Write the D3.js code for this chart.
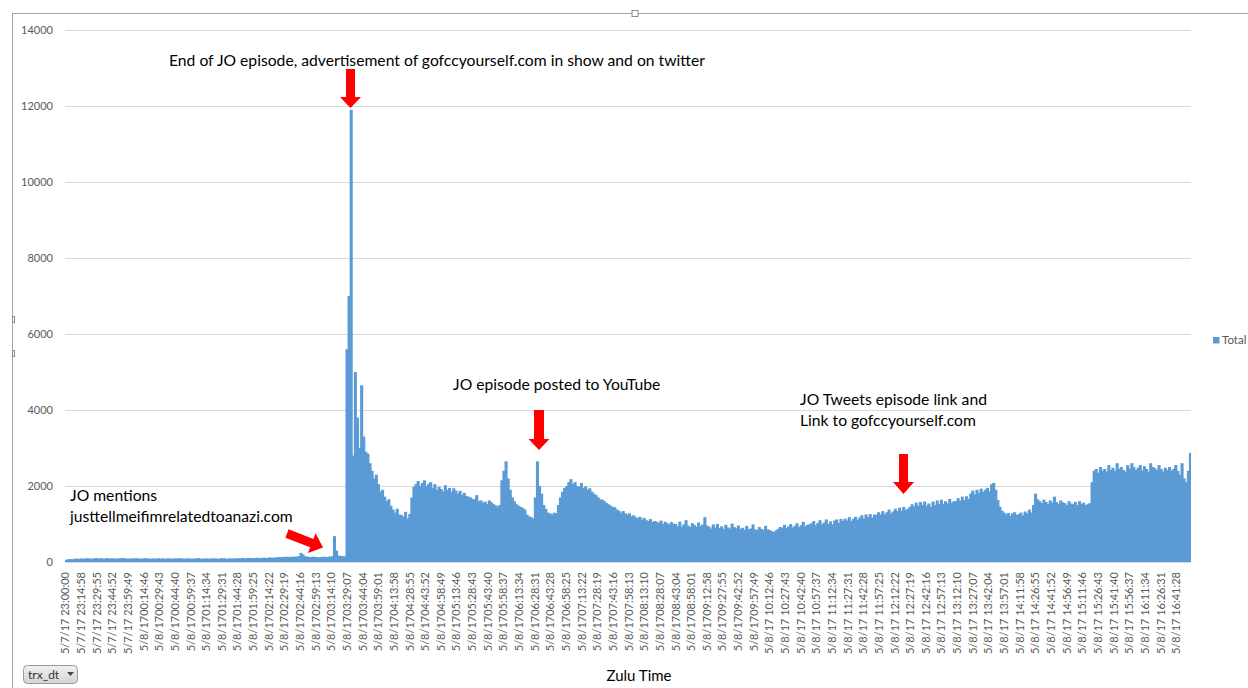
<!DOCTYPE html>
<html>
<head>
<meta charset="utf-8">
<script src="https://cdn.jsdelivr.net/npm/d3@7/dist/d3.min.js"></script>
<style>
  html, body { margin: 0; padding: 0; background: #fff; }
  svg { display: block; }
</style>
</head>
<body>
<svg id="chart" width="1248" height="688"></svg>
<script>
// ---------------- DATA ----------------
const seriesName = "Total";
const binSeconds = 120; // each bar = 2 minutes, starting 5/7/17 23:00:00 (Zulu)
const totals = [
  // 0-99
  60, 75, 80, 70, 85, 90, 80, 95, 85, 90,
  100, 90, 85, 95, 105, 90, 100, 95, 85, 100,
  95, 90, 100, 85, 95, 90, 100, 105, 95, 90,
  85, 95, 90, 100, 95, 85, 90, 95, 100, 90,
  85, 90, 95, 85, 100, 90, 95, 85, 90, 95,
  90, 85, 95, 90, 100, 95, 85, 90, 95, 90,
  85, 90, 95, 100, 90, 85, 95, 90, 85, 95,
  90, 95, 85, 90, 100, 95, 90, 85, 95, 90,
  95, 90, 100, 95, 105, 100, 95, 110, 100, 105,
  100, 110, 105, 100, 115, 110, 105, 120, 115, 110,
  // 100-133
  120, 130, 125, 135, 130, 140, 135, 130, 140, 135, 145, 150,
  240, 200,
  150, 140, 135, 130, 140, 135, 130, 125, 135, 140, 130, 135, 145, 150,
  680, 300,
  170, 160, 155, 150,
  // 134-174
  5600, 7000, 11900, 2800, 5000, 3800, 3000, 4650, 3300, 2900,
  2850, 2600, 2400, 2200, 2300, 2050, 1850, 1900, 1720, 1600,
  1650, 1480, 1380, 1300, 1400, 1250, 1240, 1200, 1320, 1150,
  1260, 1700, 1980, 2050, 2130, 2000, 2080, 2150, 2000, 2060,
  2100,
  // 175-234
  1950, 2050, 1900, 1980, 1920, 1860, 2020, 1900, 1950, 1850, 1940,
  1880, 1800, 1870, 1760, 1820, 1740, 1720,
  1700, 1660, 1650, 1760, 1600,
  1620, 1560, 1590, 1530, 1620, 1570, 1520, 1490,
  1460, 1500,
  2150, 2400, 2650, 2200, 1900, 1700, 1600, 1520,
  1480, 1450, 1420, 1380,
  1250, 1200, 1180, 1150,
  1700, 2650, 2000, 1800, 1500, 1400,
  1300, 1280, 1250, 1300, 1280,
  // 235-290
  1500, 1700, 1850, 1950, 2000, 2100, 2180, 2050, 2100, 2000,
  1980, 2080, 1950, 1990, 1900, 1940, 1850, 1800, 1760, 1700,
  1650, 1640, 1600, 1550, 1520, 1480, 1450, 1440, 1380, 1350,
  1300, 1340, 1280, 1250, 1280, 1200, 1230, 1180, 1150, 1190,
  1120, 1160, 1100, 1080, 1130, 1050, 1080, 1060, 1030, 1090,
  1000, 1060, 1020, 990, 1050, 1010,
  // 291-370
  1000, 940, 1060, 930, 990, 1100, 960, 920, 1020, 970, 930, 1040, 950, 990, 1180, 960,
  930, 880, 990, 910, 1000, 890, 940, 870, 980, 910, 880, 1010, 920, 890, 960, 870,
  900, 850, 950, 860, 880, 990, 860, 840, 920, 870, 850, 950, 860, 840, 810, 790,
  830, 870, 920, 900, 980, 890, 940, 1000, 910, 950, 1020, 920, 970, 1060, 940, 980,
  990, 1020, 1080, 970, 1030, 1100, 990, 1040, 1120, 1000, 1070, 990, 1090, 1120, 1030, 1130,
  // 371-431
  1080, 1140, 1090, 1180, 1080, 1140, 1190, 1110,
  1170, 1230, 1140, 1250, 1180, 1260, 1170, 1250,
  1240, 1310, 1250, 1340, 1260, 1310, 1380, 1280,
  1330, 1400, 1340, 1430, 1350, 1450, 1370, 1400,
  1450, 1520, 1460, 1560, 1480, 1580, 1500, 1590,
  1480, 1540, 1450, 1590, 1500, 1620, 1530, 1640,
  1530, 1600, 1540, 1660, 1560, 1600,
  1600, 1680, 1610, 1720, 1630, 1730, 1660,
  // 432-489
  1800, 1880, 1780, 1900, 1820, 1930, 1850, 1900, 1950, 1860, 2050, 2080,
  1900, 1630, 1450, 1350,
  1300, 1250, 1290, 1220, 1280, 1310, 1240, 1260, 1300, 1230, 1330, 1280, 1380, 1300,
  1500, 1800, 1650, 1600, 1550, 1640, 1580, 1520, 1620, 1560, 1720, 1580, 1530, 1620,
  1570, 1550, 1500, 1600, 1540, 1520, 1580, 1500, 1600, 1530, 1560, 1500, 1520,
  1550,
  // 490-537
  2100, 2400, 2450, 2350, 2500, 2400, 2450, 2380, 2550, 2420, 2480, 2400,
  2600, 2450, 2500, 2420, 2380, 2550, 2460, 2600, 2500, 2420, 2480, 2550,
  2400, 2520, 2450, 2380, 2600, 2500, 2470, 2420, 2550, 2450, 2380, 2480,
  2420, 2500, 2400, 2450, 2550, 2400, 2300, 2600, 2200, 2100, 2400, 2870
];
const yTicks = [0, 2000, 4000, 6000, 8000, 10000, 12000, 14000];
const xTickLabels = [
  "5/7/17 23:00:00", "5/7/17 23:14:58", "5/7/17 23:29:55", "5/7/17 23:44:52", "5/7/17 23:59:49",
  "5/8/1700:14:46", "5/8/1700:29:43", "5/8/1700:44:40", "5/8/1700:59:37",
  "5/8/1701:14:34", "5/8/1701:29:31", "5/8/1701:44:28", "5/8/1701:59:25",
  "5/8/1702:14:22", "5/8/1702:29:19", "5/8/1702:44:16", "5/8/1702:59:13",
  "5/8/1703:14:10", "5/8/1703:29:07", "5/8/1703:44:04", "5/8/1703:59:01",
  "5/8/1704:13:58", "5/8/1704:28:55", "5/8/1704:43:52", "5/8/1704:58:49",
  "5/8/1705:13:46", "5/8/1705:28:43", "5/8/1705:43:40", "5/8/1705:58:37",
  "5/8/1706:13:34", "5/8/1706:28:31", "5/8/1706:43:28", "5/8/1706:58:25",
  "5/8/1707:13:22", "5/8/1707:28:19", "5/8/1707:43:16", "5/8/1707:58:13",
  "5/8/1708:13:10", "5/8/1708:28:07", "5/8/1708:43:04", "5/8/1708:58:01",
  "5/8/1709:12:58", "5/8/1709:27:55", "5/8/1709:42:52", "5/8/1709:57:49",
  "5/8/17 10:12:46", "5/8/17 10:27:43", "5/8/17 10:42:40", "5/8/17 10:57:37",
  "5/8/17 11:12:34", "5/8/17 11:27:31", "5/8/17 11:42:28", "5/8/17 11:57:25",
  "5/8/17 12:12:22", "5/8/17 12:27:19", "5/8/17 12:42:16", "5/8/17 12:57:13",
  "5/8/17 13:12:10", "5/8/17 13:27:07", "5/8/17 13:42:04", "5/8/17 13:57:01",
  "5/8/17 14:11:58", "5/8/17 14:26:55", "5/8/17 14:41:52", "5/8/17 14:56:49",
  "5/8/17 15:11:46", "5/8/17 15:26:43", "5/8/17 15:41:40", "5/8/17 15:56:37",
  "5/8/17 16:11:34", "5/8/17 16:26:31", "5/8/17 16:41:28"
];
const annotations = [
  { lines: ["End of JO episode, advertisement of gofccyourself.com in show and on twitter"], x: 169, y: 66 },
  { lines: ["JO mentions", "justtellmeifimrelatedtoanazi.com"], x: 70, y: 501 },
  { lines: ["JO episode posted to YouTube"], x: 453, y: 390 },
  { lines: ["JO Tweets episode link and", "Link to gofccyourself.com"], x: 800, y: 405 }
];

// ---------------- CHART ----------------
const svg = d3.select("#chart");
const W = 1248, H = 688;
const plot = { left: 65, right: 1191, top: 30, bottom: 562 };
const fontUI = "Lato, 'Open Sans', 'Liberation Sans', sans-serif";
const barColor = "#5B9BD5";

const x = d3.scaleLinear().domain([0, totals.length * binSeconds]).range([plot.left, plot.right]);
const y = d3.scaleLinear().domain([0, 14000]).range([plot.bottom, plot.top]);

// outer chart frame (selected chart look)
svg.append("line").attr("x1", 12).attr("x2", W).attr("y1", 13.5).attr("y2", 13.5)
  .attr("stroke", "#a6a6a6").attr("stroke-width", 1);
svg.append("line").attr("x1", 12.5).attr("x2", 12.5).attr("y1", 13).attr("y2", H)
  .attr("stroke", "#a6a6a6").attr("stroke-width", 1);
svg.append("rect").attr("x", 632).attr("y", 10.5).attr("width", 6).attr("height", 6)
  .attr("fill", "#fff").attr("stroke", "#8c8c8c");
[316, 350].forEach(yy => {
  svg.append("rect").attr("x", 12.5).attr("y", yy + 0.5).attr("width", 2).attr("height", 6)
    .attr("fill", "#fff").attr("stroke", "#8c8c8c");
});

// gridlines
const yAxis = d3.axisLeft(y).tickValues(yTicks).tickSize(-(plot.right - plot.left)).tickPadding(12).tickFormat(d3.format("d"));
const gY = svg.append("g").attr("transform", `translate(${plot.left},0)`).call(yAxis);
gY.select(".domain").remove();
gY.selectAll(".tick line").attr("stroke", "#d9d9d9").attr("stroke-width", 1);
gY.selectAll(".tick text").attr("fill", "#595959").attr("font-family", fontUI).attr("font-size", "11px");

// bars
svg.append("g").selectAll("rect").data(totals).join("rect")
  .attr("x", (d, i) => x(i * binSeconds))
  .attr("width", (d, i) => Math.min(x((i + 1) * binSeconds) + 1, plot.right) - x(i * binSeconds))
  .attr("y", d => y(d))
  .attr("height", d => y(0) - y(d))
  .attr("fill", barColor);

// x axis line
svg.append("line").attr("x1", plot.left).attr("x2", plot.right).attr("y1", y(0) + 0.5).attr("y2", y(0) + 0.5)
  .attr("stroke", "#d9d9d9");

// x tick labels (positions derived from label time)
function labelSeconds(lbl) {
  const hms = lbl.slice(-8).split(":").map(Number);
  const day = lbl.startsWith("5/7") ? 0 : 1;
  return day * 86400 + hms[0] * 3600 + hms[1] * 60 + hms[2] - 23 * 3600;
}
const xAxis = d3.axisBottom(x)
  .tickValues(xTickLabels.map(labelSeconds))
  .tickFormat((d, i) => xTickLabels[i])
  .tickSize(0);
const gX = svg.append("g").attr("transform", `translate(0,${plot.bottom})`).call(xAxis);
gX.select(".domain").remove();
gX.selectAll(".tick text")
  .attr("transform", "rotate(-90)")
  .attr("text-anchor", "end")
  .attr("x", -10).attr("y", 0).attr("dy", "0.35em")
  .attr("fill", "#595959").attr("font-family", fontUI).attr("font-size", "11px");

// axis title
svg.append("text").attr("x", (plot.left + plot.right) / 2 + 11).attr("y", 681)
  .attr("text-anchor", "middle").attr("font-family", fontUI).attr("font-size", "15px")
  .attr("fill", "#000").text("Zulu Time");

// legend
svg.append("rect").attr("x", 1213).attr("y", 337).attr("width", 6.5).attr("height", 6.5).attr("fill", barColor);
svg.append("text").attr("x", 1222).attr("y", 340).attr("dy", "0.35em")
  .attr("font-family", fontUI).attr("font-size", "11.5px").attr("fill", "#595959").text(seriesName);

// field button
const grad = svg.append("defs").append("linearGradient").attr("id", "btn").attr("x1", 0).attr("x2", 0).attr("y1", 0).attr("y2", 1);
grad.append("stop").attr("offset", "0%").attr("stop-color", "#f0f0f0");
grad.append("stop").attr("offset", "100%").attr("stop-color", "#d4d4d4");
svg.append("rect").attr("x", 23.5).attr("y", 665.5).attr("width", 54).attr("height", 18).attr("rx", 4)
  .attr("fill", "url(#btn)").attr("stroke", "#9a9a9a");
svg.append("text").attr("x", 28).attr("y", 675).attr("dy", "0.35em")
  .attr("font-family", fontUI).attr("font-size", "12px").attr("fill", "#333").text("trx_dt");
svg.append("path").attr("d", "M67,672 L74,672 L70.5,676 Z").attr("fill", "#444");

// annotations
annotations.forEach(a => {
  const t = svg.append("text").attr("font-family", fontUI).attr("font-size", "15.7px").attr("fill", "#000");
  a.lines.forEach((ln, k) => {
    t.append("tspan").attr("x", a.x).attr("y", a.y + k * 21).text(ln);
  });
});

// red arrows
function downArrow(cx, top, headStart, tip, shaftW, headW) {
  const s = shaftW / 2, h = headW / 2;
  return `M${cx - s},${top} L${cx + s},${top} L${cx + s},${headStart} L${cx + h},${headStart} L${cx},${tip} L${cx - h},${headStart} L${cx - s},${headStart} Z`;
}
svg.append("path").attr("d", downArrow(350.5, 69, 97, 108, 9, 21)).attr("fill", "#ff0000");
svg.append("path").attr("d", downArrow(539, 410, 439, 450, 10, 21)).attr("fill", "#ff0000");
svg.append("path").attr("d", downArrow(903.5, 454, 482, 494, 9, 21)).attr("fill", "#ff0000");
// diagonal arrow (pointing down-right)
(function () {
  const x0 = 287, y0 = 533.5, x1 = 323, y1 = 547.5;
  const ang = Math.atan2(y1 - y0, x1 - x0) * 180 / Math.PI;
  const len = Math.hypot(x1 - x0, y1 - y0);
  const s = 4.5, h = 10.5, headLen = 12;
  const d = `M0,${-s} L${len - headLen},${-s} L${len - headLen},${-h} L${len},0 L${len - headLen},${h} L${len - headLen},${s} L0,${s} Z`;
  svg.append("path").attr("d", d).attr("fill", "#ff0000")
    .attr("transform", `translate(${x0},${y0}) rotate(${ang})`);
})();
</script>
</body>
</html>
